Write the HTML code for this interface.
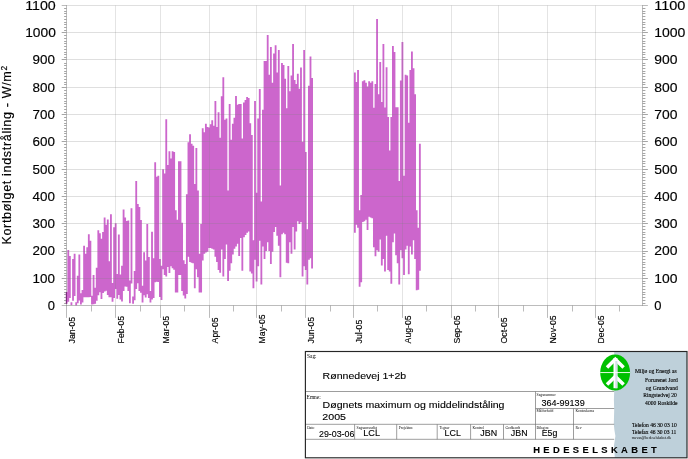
<!DOCTYPE html><html><head><meta charset="utf-8"><title>chart</title><style>html,body{margin:0;padding:0;background:#fff}svg{display:block;will-change:transform}text{font-family:"Liberation Sans",sans-serif;fill:#000;stroke:#000;stroke-width:0.15px;stroke-linejoin:round}.s{font-family:"Liberation Serif",serif;stroke-width:0}.p{stroke-width:0.12px}.b{stroke-width:0.12px}</style></head><body>
<svg width="688" height="459" viewBox="0 0 688 459">
<rect width="688" height="459" fill="#fff"/>
<path fill="#cc66cc" d="M65.78 292.00H67.61V303.80H65.78ZM67.36 249.93H69.19V301.85H67.36ZM68.95 256.06H70.78V297.93H68.95ZM70.52 302.18H72.35V305.25H70.52ZM72.11 258.98H73.94V300.87H72.11ZM73.69 253.87H75.52V295.97H73.69ZM75.27 302.18H77.09V305.45H75.27ZM76.84 275.77H78.67V303.16H76.84ZM78.42 254.60H80.25V300.54H78.42ZM80.00 293.35H81.83V304.47H80.00ZM81.58 290.08H83.41V302.51H81.58ZM83.17 245.84H85.00V297.27H83.17ZM84.74 253.87H86.57V297.27H84.74ZM86.33 247.30H88.16V297.14H86.33ZM87.91 234.31H89.73V297.27H87.91ZM89.48 240.73H91.31V297.01H89.48ZM91.06 295.64H92.89V304.47H91.06ZM92.65 275.04H94.48V304.14H92.65ZM94.22 287.79H96.05V303.81H94.22ZM95.80 267.74H97.63V300.87H95.80ZM97.39 230.37H99.22V295.31H97.39ZM98.96 233.15H100.79V292.37H98.96ZM100.54 238.69H102.37V298.91H100.54ZM102.12 232.12H103.95V293.02H102.12ZM103.71 217.53H105.54V291.39H103.71ZM105.28 224.82H107.11V290.73H105.28ZM106.86 219.42H108.69V294.99H106.86ZM108.45 261.28H110.28V297.34H108.45ZM110.02 214.31H111.85V297.34H110.02ZM111.60 283.07H113.43V301.84H111.60ZM113.19 227.31H115.02V298.09H113.19ZM114.77 223.36H116.59V289.07H114.77ZM116.34 274.05H118.17V298.84H116.34ZM117.92 234.61H119.75V295.08H117.92ZM119.50 274.62H121.33V299.56H119.50ZM121.09 265.79H122.92V301.53H121.09ZM122.67 209.50H124.50V291.06H122.67ZM124.24 217.53H126.07V286.48H124.24ZM125.83 220.88H127.66V286.81H125.83ZM127.41 220.45H129.24V291.06H127.41ZM128.98 280.60H130.81V303.16H128.98ZM130.56 208.33H132.40V283.54H130.56ZM132.15 296.62H133.98V303.81H132.15ZM133.72 271.02H135.56V300.22H133.72ZM135.31 181.03H137.14V289.10H135.31ZM136.88 204.09H138.72V283.21H136.88ZM138.46 207.01H140.29V291.06H138.46ZM140.05 220.01H141.88V292.70H140.05ZM141.62 285.83H143.46V302.51H141.62ZM143.20 252.30H145.03V295.31H143.20ZM144.79 260.56H146.62V297.60H144.79ZM146.36 224.09H148.19V294.33H146.36ZM147.94 257.09H149.78V297.93H147.94ZM149.53 291.06H151.36V302.51H149.53ZM151.10 231.83H152.94V299.56H151.10ZM152.69 258.27H154.52V297.93H152.69ZM154.27 162.20H156.10V282.23H154.27ZM155.84 176.65H157.67V281.71H155.84ZM157.42 175.63H159.25V282.10H157.42ZM159.00 259.00H160.84V296.95H159.00ZM160.58 265.79H162.41V299.89H160.58ZM162.17 169.20H164.00V269.19H162.17ZM163.75 173.50H165.59V275.08H163.75ZM165.34 119.14H167.17V276.39H165.34ZM166.93 165.12H168.76V266.91H166.93ZM168.51 151.26H170.34V273.12H168.51ZM170.09 158.55H171.93V266.25H170.09ZM171.68 151.26H173.51V268.21H171.68ZM173.26 151.99H175.09V269.85H173.26ZM174.85 210.23H176.68V292.55H174.85ZM176.44 219.72H178.27V292.55H176.44ZM178.02 161.18H179.85V275.04H178.02ZM179.61 161.18H181.44V275.04H179.61ZM181.19 222.64H183.02V291.09H181.19ZM182.77 260.30H184.60V295.47H182.77ZM184.36 263.90H186.19V298.39H184.36ZM185.94 194.17H187.78V294.01H185.94ZM187.53 142.20H189.36V256.79H187.53ZM189.12 134.18H190.95V261.90H189.12ZM190.70 143.66H192.53V262.63H190.70ZM192.28 145.71H194.12V263.36H192.28ZM193.87 183.95H195.70V288.18H193.87ZM195.45 147.90H197.28V269.20H195.45ZM197.04 190.52H198.87V277.23H197.04ZM198.62 253.87H200.46V292.55H198.62ZM200.21 224.09H202.04V292.55H200.21ZM201.80 128.19H203.63V260.44H201.80ZM203.38 132.28H205.21V253.87H203.38ZM204.96 123.81H206.79V252.41H204.96ZM206.55 126.88H208.38V251.68H206.55ZM208.13 127.61H209.97V248.03H208.13ZM209.72 124.25H211.55V248.03H209.72ZM211.31 120.16H213.14V248.76H211.31ZM212.89 125.71H214.72V249.49H212.89ZM214.48 101.04H216.31V256.79H214.48ZM216.06 126.88H217.89V261.90H216.06ZM217.64 112.13H219.47V269.93H217.64ZM219.23 137.82H221.06V272.85H219.23ZM220.81 96.37H222.65V249.49H220.81ZM222.40 77.25H224.23V276.50H222.40ZM223.99 119.87H225.82V258.98H223.99ZM225.57 118.41H227.40V244.38H225.57ZM227.15 190.52H228.98V280.88H227.15ZM228.74 103.96H230.57V270.66H228.74ZM230.32 139.87H232.16V263.36H230.32ZM231.91 123.81H233.74V254.60H231.91ZM233.50 117.68H235.33V248.76H233.50ZM235.08 95.93H236.91V246.57H235.08ZM236.67 104.69H238.50V243.65H236.67ZM238.25 103.96H240.08V256.06H238.25ZM239.83 103.96H241.66V237.96H239.83ZM241.42 138.41H243.25V270.66H241.42ZM243.00 102.50H244.84V237.23H243.00ZM244.59 100.02H246.42V235.04H244.59ZM246.18 97.10H248.01V232.85H246.18ZM247.76 98.12H249.59V231.39H247.76ZM249.34 123.23H251.17V271.39H249.34ZM250.93 134.91H252.76V273.58H250.93ZM252.51 240.29H254.34V288.18H252.51ZM254.10 101.04H255.93V259.71H254.10ZM255.69 192.71H257.51V281.61H255.69ZM257.27 118.41H259.10V266.28H257.27ZM258.86 88.93H260.69V240.70H258.86ZM260.44 201.47H262.27V284.53H260.44ZM262.02 109.65H263.85V246.57H262.02ZM263.61 60.90H265.44V258.98H263.61ZM265.19 60.90H267.02V250.95H265.19ZM266.78 35.11H268.61V242.19H266.78ZM268.37 74.77H270.19V250.95H268.37ZM269.95 47.03H271.78V264.09H269.95ZM271.53 82.80H273.36V251.68H271.53ZM273.12 53.60H274.95V232.12H273.12ZM274.70 45.13H276.53V227.01H274.70ZM276.29 72.58H278.12V235.77H276.29ZM277.88 49.95H279.70V245.84H277.88ZM279.46 185.41H281.29V277.23H279.46ZM281.05 63.09H282.88V234.31H281.05ZM282.63 64.99H284.46V232.85H282.63ZM284.21 78.71H286.04V234.31H284.21ZM285.80 108.19H287.63V262.63H285.80ZM287.38 66.01H289.21V263.36H287.38ZM288.97 91.26H290.80V242.19H288.97ZM290.56 75.50H292.38V253.87H290.56ZM292.14 44.11H293.97V227.01H292.14ZM293.73 79.88H295.56V249.49H293.73ZM295.31 83.96H297.14V231.39H295.31ZM296.89 73.74H298.72V221.18H296.89ZM298.48 88.64H300.31V224.09H298.48ZM300.06 67.47H301.89V221.91H300.06ZM301.65 141.77H303.48V276.50H301.65ZM303.24 49.95H305.06V266.28H303.24ZM304.82 151.99H306.65V269.93H304.82ZM306.40 229.20H308.23V284.53H306.40ZM307.99 85.72H309.82V259.71H307.99ZM309.57 56.52H311.40V258.25H309.57ZM311.16 78.12H312.99V268.47H311.16ZM353.95 72.58H355.78V232.85H353.95ZM355.54 82.07H357.37V224.82H355.54ZM357.12 69.95H358.95V227.80H357.12ZM358.71 210.23H360.54V286.72H358.71ZM360.30 194.90H362.12V282.34H360.30ZM361.88 81.34H363.71V221.91H361.88ZM363.47 80.31H365.30V221.18H363.47ZM365.05 82.80H366.88V219.72H365.05ZM366.63 86.45H368.46V229.93H366.63ZM368.22 81.34H370.05V216.80H368.22ZM369.81 82.80H371.63V217.53H369.81ZM371.39 81.34H373.22V218.26H371.39ZM372.98 107.75H374.81V247.30H372.98ZM374.56 83.96H376.39V256.35H374.56ZM376.14 18.98H377.97V250.22H376.14ZM377.73 94.18H379.56V251.68H377.73ZM379.31 62.04H381.14V239.42H379.31ZM380.90 102.07H382.73V265.55H380.90ZM382.49 44.09H384.31V258.98H382.49ZM384.07 107.46H385.90V271.39H384.07ZM385.66 67.18H387.49V235.77H385.66ZM387.24 116.95H389.07V269.93H387.24ZM388.82 150.53H390.65V271.39H388.82ZM390.41 116.95H392.24V283.80H390.41ZM392.00 45.99H393.82V242.19H392.00ZM393.58 52.12H395.41V233.58H393.58ZM395.17 107.17H397.00V255.33H395.17ZM396.75 107.17H398.58V263.36H396.75ZM398.33 181.03H400.16V284.53H398.33ZM399.92 80.61H401.75V250.22H399.92ZM401.50 42.04H403.33V258.25H401.50ZM403.09 175.63H404.92V275.04H403.09ZM404.68 74.77H406.50V249.49H404.68ZM406.26 75.50H408.09V245.84H406.26ZM407.85 122.79H409.68V274.31H407.85ZM409.43 69.95H411.26V246.57H409.43ZM411.01 51.39H412.84V254.60H411.01ZM412.60 68.20H414.43V240.20H412.60ZM414.19 94.18H416.01V258.98H414.19ZM415.77 210.23H417.60V290.36H415.77ZM417.36 227.74H419.19V289.64H417.36ZM418.94 143.66H420.77V270.66H418.94Z"/>
<g stroke="#808080" stroke-opacity="0.25" stroke-width="1" fill="none">
<line x1="66.5" x2="642.5" y1="278.50" y2="278.50"/>
<line x1="66.5" x2="642.5" y1="251.50" y2="251.50"/>
<line x1="66.5" x2="642.5" y1="223.50" y2="223.50"/>
<line x1="66.5" x2="642.5" y1="196.50" y2="196.50"/>
<line x1="66.5" x2="642.5" y1="169.50" y2="169.50"/>
<line x1="66.5" x2="642.5" y1="141.50" y2="141.50"/>
<line x1="66.5" x2="642.5" y1="114.50" y2="114.50"/>
<line x1="66.5" x2="642.5" y1="87.50" y2="87.50"/>
<line x1="66.5" x2="642.5" y1="59.50" y2="59.50"/>
<line x1="66.5" x2="642.5" y1="32.50" y2="32.50"/>
<line x1="66.5" x2="642.5" y1="5.50" y2="5.50"/>
</g><g stroke="#808080" stroke-opacity="0.21" stroke-width="1" fill="none">
<line x1="115.5" x2="115.5" y1="5.50" y2="305.5"/>
<line x1="160.5" x2="160.5" y1="5.50" y2="305.5"/>
<line x1="209.5" x2="209.5" y1="5.50" y2="305.5"/>
<line x1="256.5" x2="256.5" y1="5.50" y2="305.5"/>
<line x1="305.5" x2="305.5" y1="5.50" y2="305.5"/>
<line x1="353.5" x2="353.5" y1="5.50" y2="305.5"/>
<line x1="402.5" x2="402.5" y1="5.50" y2="305.5"/>
<line x1="451.5" x2="451.5" y1="5.50" y2="305.5"/>
<line x1="498.5" x2="498.5" y1="5.50" y2="305.5"/>
<line x1="547.5" x2="547.5" y1="5.50" y2="305.5"/>
<line x1="595.5" x2="595.5" y1="5.50" y2="305.5"/>
</g>
<g stroke="#8c8c8c" stroke-opacity="0.58" stroke-width="1" fill="none">
<line x1="66.5" x2="66.5" y1="5.00" y2="306.0"/>
<line x1="642.5" x2="642.5" y1="5.00" y2="306.0"/>
<line x1="61.7" x2="647.9" y1="305.5" y2="305.5"/>
<line x1="61.7" x2="66.5" y1="5.50" y2="5.50"/>
<line x1="642.5" x2="647.9" y1="5.50" y2="5.50"/>
</g><g stroke="#909090" stroke-opacity="0.8" stroke-width="1" fill="none">
<line x1="64.1" x2="66.5" y1="303.50" y2="303.50"/>
<line x1="642.5" x2="645.4" y1="303.50" y2="303.50"/>
<line x1="64.1" x2="66.5" y1="300.50" y2="300.50"/>
<line x1="642.5" x2="645.4" y1="300.50" y2="300.50"/>
<line x1="64.1" x2="66.5" y1="297.50" y2="297.50"/>
<line x1="642.5" x2="645.4" y1="297.50" y2="297.50"/>
<line x1="64.1" x2="66.5" y1="294.50" y2="294.50"/>
<line x1="642.5" x2="645.4" y1="294.50" y2="294.50"/>
<line x1="64.1" x2="66.5" y1="292.50" y2="292.50"/>
<line x1="642.5" x2="645.4" y1="292.50" y2="292.50"/>
<line x1="64.1" x2="66.5" y1="289.50" y2="289.50"/>
<line x1="642.5" x2="645.4" y1="289.50" y2="289.50"/>
<line x1="64.1" x2="66.5" y1="286.50" y2="286.50"/>
<line x1="642.5" x2="645.4" y1="286.50" y2="286.50"/>
<line x1="64.1" x2="66.5" y1="283.50" y2="283.50"/>
<line x1="642.5" x2="645.4" y1="283.50" y2="283.50"/>
<line x1="64.1" x2="66.5" y1="281.50" y2="281.50"/>
<line x1="642.5" x2="645.4" y1="281.50" y2="281.50"/>
<line x1="61.7" x2="66.5" y1="278.50" y2="278.50"/>
<line x1="642.5" x2="647.9" y1="278.50" y2="278.50"/>
<line x1="64.1" x2="66.5" y1="275.50" y2="275.50"/>
<line x1="642.5" x2="645.4" y1="275.50" y2="275.50"/>
<line x1="64.1" x2="66.5" y1="273.50" y2="273.50"/>
<line x1="642.5" x2="645.4" y1="273.50" y2="273.50"/>
<line x1="64.1" x2="66.5" y1="270.50" y2="270.50"/>
<line x1="642.5" x2="645.4" y1="270.50" y2="270.50"/>
<line x1="64.1" x2="66.5" y1="267.50" y2="267.50"/>
<line x1="642.5" x2="645.4" y1="267.50" y2="267.50"/>
<line x1="64.1" x2="66.5" y1="264.50" y2="264.50"/>
<line x1="642.5" x2="645.4" y1="264.50" y2="264.50"/>
<line x1="64.1" x2="66.5" y1="262.50" y2="262.50"/>
<line x1="642.5" x2="645.4" y1="262.50" y2="262.50"/>
<line x1="64.1" x2="66.5" y1="259.50" y2="259.50"/>
<line x1="642.5" x2="645.4" y1="259.50" y2="259.50"/>
<line x1="64.1" x2="66.5" y1="256.50" y2="256.50"/>
<line x1="642.5" x2="645.4" y1="256.50" y2="256.50"/>
<line x1="64.1" x2="66.5" y1="253.50" y2="253.50"/>
<line x1="642.5" x2="645.4" y1="253.50" y2="253.50"/>
<line x1="61.7" x2="66.5" y1="251.50" y2="251.50"/>
<line x1="642.5" x2="647.9" y1="251.50" y2="251.50"/>
<line x1="64.1" x2="66.5" y1="248.50" y2="248.50"/>
<line x1="642.5" x2="645.4" y1="248.50" y2="248.50"/>
<line x1="64.1" x2="66.5" y1="245.50" y2="245.50"/>
<line x1="642.5" x2="645.4" y1="245.50" y2="245.50"/>
<line x1="64.1" x2="66.5" y1="243.50" y2="243.50"/>
<line x1="642.5" x2="645.4" y1="243.50" y2="243.50"/>
<line x1="64.1" x2="66.5" y1="240.50" y2="240.50"/>
<line x1="642.5" x2="645.4" y1="240.50" y2="240.50"/>
<line x1="64.1" x2="66.5" y1="237.50" y2="237.50"/>
<line x1="642.5" x2="645.4" y1="237.50" y2="237.50"/>
<line x1="64.1" x2="66.5" y1="234.50" y2="234.50"/>
<line x1="642.5" x2="645.4" y1="234.50" y2="234.50"/>
<line x1="64.1" x2="66.5" y1="232.50" y2="232.50"/>
<line x1="642.5" x2="645.4" y1="232.50" y2="232.50"/>
<line x1="64.1" x2="66.5" y1="229.50" y2="229.50"/>
<line x1="642.5" x2="645.4" y1="229.50" y2="229.50"/>
<line x1="64.1" x2="66.5" y1="226.50" y2="226.50"/>
<line x1="642.5" x2="645.4" y1="226.50" y2="226.50"/>
<line x1="61.7" x2="66.5" y1="223.50" y2="223.50"/>
<line x1="642.5" x2="647.9" y1="223.50" y2="223.50"/>
<line x1="64.1" x2="66.5" y1="221.50" y2="221.50"/>
<line x1="642.5" x2="645.4" y1="221.50" y2="221.50"/>
<line x1="64.1" x2="66.5" y1="218.50" y2="218.50"/>
<line x1="642.5" x2="645.4" y1="218.50" y2="218.50"/>
<line x1="64.1" x2="66.5" y1="215.50" y2="215.50"/>
<line x1="642.5" x2="645.4" y1="215.50" y2="215.50"/>
<line x1="64.1" x2="66.5" y1="213.50" y2="213.50"/>
<line x1="642.5" x2="645.4" y1="213.50" y2="213.50"/>
<line x1="64.1" x2="66.5" y1="210.50" y2="210.50"/>
<line x1="642.5" x2="645.4" y1="210.50" y2="210.50"/>
<line x1="64.1" x2="66.5" y1="207.50" y2="207.50"/>
<line x1="642.5" x2="645.4" y1="207.50" y2="207.50"/>
<line x1="64.1" x2="66.5" y1="204.50" y2="204.50"/>
<line x1="642.5" x2="645.4" y1="204.50" y2="204.50"/>
<line x1="64.1" x2="66.5" y1="202.50" y2="202.50"/>
<line x1="642.5" x2="645.4" y1="202.50" y2="202.50"/>
<line x1="64.1" x2="66.5" y1="199.50" y2="199.50"/>
<line x1="642.5" x2="645.4" y1="199.50" y2="199.50"/>
<line x1="61.7" x2="66.5" y1="196.50" y2="196.50"/>
<line x1="642.5" x2="647.9" y1="196.50" y2="196.50"/>
<line x1="64.1" x2="66.5" y1="193.50" y2="193.50"/>
<line x1="642.5" x2="645.4" y1="193.50" y2="193.50"/>
<line x1="64.1" x2="66.5" y1="191.50" y2="191.50"/>
<line x1="642.5" x2="645.4" y1="191.50" y2="191.50"/>
<line x1="64.1" x2="66.5" y1="188.50" y2="188.50"/>
<line x1="642.5" x2="645.4" y1="188.50" y2="188.50"/>
<line x1="64.1" x2="66.5" y1="185.50" y2="185.50"/>
<line x1="642.5" x2="645.4" y1="185.50" y2="185.50"/>
<line x1="64.1" x2="66.5" y1="183.50" y2="183.50"/>
<line x1="642.5" x2="645.4" y1="183.50" y2="183.50"/>
<line x1="64.1" x2="66.5" y1="180.50" y2="180.50"/>
<line x1="642.5" x2="645.4" y1="180.50" y2="180.50"/>
<line x1="64.1" x2="66.5" y1="177.50" y2="177.50"/>
<line x1="642.5" x2="645.4" y1="177.50" y2="177.50"/>
<line x1="64.1" x2="66.5" y1="174.50" y2="174.50"/>
<line x1="642.5" x2="645.4" y1="174.50" y2="174.50"/>
<line x1="64.1" x2="66.5" y1="172.50" y2="172.50"/>
<line x1="642.5" x2="645.4" y1="172.50" y2="172.50"/>
<line x1="61.7" x2="66.5" y1="169.50" y2="169.50"/>
<line x1="642.5" x2="647.9" y1="169.50" y2="169.50"/>
<line x1="64.1" x2="66.5" y1="166.50" y2="166.50"/>
<line x1="642.5" x2="645.4" y1="166.50" y2="166.50"/>
<line x1="64.1" x2="66.5" y1="163.50" y2="163.50"/>
<line x1="642.5" x2="645.4" y1="163.50" y2="163.50"/>
<line x1="64.1" x2="66.5" y1="161.50" y2="161.50"/>
<line x1="642.5" x2="645.4" y1="161.50" y2="161.50"/>
<line x1="64.1" x2="66.5" y1="158.50" y2="158.50"/>
<line x1="642.5" x2="645.4" y1="158.50" y2="158.50"/>
<line x1="64.1" x2="66.5" y1="155.50" y2="155.50"/>
<line x1="642.5" x2="645.4" y1="155.50" y2="155.50"/>
<line x1="64.1" x2="66.5" y1="153.50" y2="153.50"/>
<line x1="642.5" x2="645.4" y1="153.50" y2="153.50"/>
<line x1="64.1" x2="66.5" y1="150.50" y2="150.50"/>
<line x1="642.5" x2="645.4" y1="150.50" y2="150.50"/>
<line x1="64.1" x2="66.5" y1="147.50" y2="147.50"/>
<line x1="642.5" x2="645.4" y1="147.50" y2="147.50"/>
<line x1="64.1" x2="66.5" y1="144.50" y2="144.50"/>
<line x1="642.5" x2="645.4" y1="144.50" y2="144.50"/>
<line x1="61.7" x2="66.5" y1="141.50" y2="141.50"/>
<line x1="642.5" x2="647.9" y1="141.50" y2="141.50"/>
<line x1="64.1" x2="66.5" y1="139.50" y2="139.50"/>
<line x1="642.5" x2="645.4" y1="139.50" y2="139.50"/>
<line x1="64.1" x2="66.5" y1="136.50" y2="136.50"/>
<line x1="642.5" x2="645.4" y1="136.50" y2="136.50"/>
<line x1="64.1" x2="66.5" y1="133.50" y2="133.50"/>
<line x1="642.5" x2="645.4" y1="133.50" y2="133.50"/>
<line x1="64.1" x2="66.5" y1="131.50" y2="131.50"/>
<line x1="642.5" x2="645.4" y1="131.50" y2="131.50"/>
<line x1="64.1" x2="66.5" y1="128.50" y2="128.50"/>
<line x1="642.5" x2="645.4" y1="128.50" y2="128.50"/>
<line x1="64.1" x2="66.5" y1="125.50" y2="125.50"/>
<line x1="642.5" x2="645.4" y1="125.50" y2="125.50"/>
<line x1="64.1" x2="66.5" y1="123.50" y2="123.50"/>
<line x1="642.5" x2="645.4" y1="123.50" y2="123.50"/>
<line x1="64.1" x2="66.5" y1="120.50" y2="120.50"/>
<line x1="642.5" x2="645.4" y1="120.50" y2="120.50"/>
<line x1="64.1" x2="66.5" y1="117.50" y2="117.50"/>
<line x1="642.5" x2="645.4" y1="117.50" y2="117.50"/>
<line x1="61.7" x2="66.5" y1="114.50" y2="114.50"/>
<line x1="642.5" x2="647.9" y1="114.50" y2="114.50"/>
<line x1="64.1" x2="66.5" y1="112.50" y2="112.50"/>
<line x1="642.5" x2="645.4" y1="112.50" y2="112.50"/>
<line x1="64.1" x2="66.5" y1="109.50" y2="109.50"/>
<line x1="642.5" x2="645.4" y1="109.50" y2="109.50"/>
<line x1="64.1" x2="66.5" y1="106.50" y2="106.50"/>
<line x1="642.5" x2="645.4" y1="106.50" y2="106.50"/>
<line x1="64.1" x2="66.5" y1="103.50" y2="103.50"/>
<line x1="642.5" x2="645.4" y1="103.50" y2="103.50"/>
<line x1="64.1" x2="66.5" y1="101.50" y2="101.50"/>
<line x1="642.5" x2="645.4" y1="101.50" y2="101.50"/>
<line x1="64.1" x2="66.5" y1="98.50" y2="98.50"/>
<line x1="642.5" x2="645.4" y1="98.50" y2="98.50"/>
<line x1="64.1" x2="66.5" y1="95.50" y2="95.50"/>
<line x1="642.5" x2="645.4" y1="95.50" y2="95.50"/>
<line x1="64.1" x2="66.5" y1="93.50" y2="93.50"/>
<line x1="642.5" x2="645.4" y1="93.50" y2="93.50"/>
<line x1="64.1" x2="66.5" y1="90.50" y2="90.50"/>
<line x1="642.5" x2="645.4" y1="90.50" y2="90.50"/>
<line x1="61.7" x2="66.5" y1="87.50" y2="87.50"/>
<line x1="642.5" x2="647.9" y1="87.50" y2="87.50"/>
<line x1="64.1" x2="66.5" y1="84.50" y2="84.50"/>
<line x1="642.5" x2="645.4" y1="84.50" y2="84.50"/>
<line x1="64.1" x2="66.5" y1="82.50" y2="82.50"/>
<line x1="642.5" x2="645.4" y1="82.50" y2="82.50"/>
<line x1="64.1" x2="66.5" y1="79.50" y2="79.50"/>
<line x1="642.5" x2="645.4" y1="79.50" y2="79.50"/>
<line x1="64.1" x2="66.5" y1="76.50" y2="76.50"/>
<line x1="642.5" x2="645.4" y1="76.50" y2="76.50"/>
<line x1="64.1" x2="66.5" y1="73.50" y2="73.50"/>
<line x1="642.5" x2="645.4" y1="73.50" y2="73.50"/>
<line x1="64.1" x2="66.5" y1="71.50" y2="71.50"/>
<line x1="642.5" x2="645.4" y1="71.50" y2="71.50"/>
<line x1="64.1" x2="66.5" y1="68.50" y2="68.50"/>
<line x1="642.5" x2="645.4" y1="68.50" y2="68.50"/>
<line x1="64.1" x2="66.5" y1="65.50" y2="65.50"/>
<line x1="642.5" x2="645.4" y1="65.50" y2="65.50"/>
<line x1="64.1" x2="66.5" y1="63.50" y2="63.50"/>
<line x1="642.5" x2="645.4" y1="63.50" y2="63.50"/>
<line x1="61.7" x2="66.5" y1="59.50" y2="59.50"/>
<line x1="642.5" x2="647.9" y1="59.50" y2="59.50"/>
<line x1="64.1" x2="66.5" y1="57.50" y2="57.50"/>
<line x1="642.5" x2="645.4" y1="57.50" y2="57.50"/>
<line x1="64.1" x2="66.5" y1="54.50" y2="54.50"/>
<line x1="642.5" x2="645.4" y1="54.50" y2="54.50"/>
<line x1="64.1" x2="66.5" y1="52.50" y2="52.50"/>
<line x1="642.5" x2="645.4" y1="52.50" y2="52.50"/>
<line x1="64.1" x2="66.5" y1="49.50" y2="49.50"/>
<line x1="642.5" x2="645.4" y1="49.50" y2="49.50"/>
<line x1="64.1" x2="66.5" y1="46.50" y2="46.50"/>
<line x1="642.5" x2="645.4" y1="46.50" y2="46.50"/>
<line x1="64.1" x2="66.5" y1="43.50" y2="43.50"/>
<line x1="642.5" x2="645.4" y1="43.50" y2="43.50"/>
<line x1="64.1" x2="66.5" y1="41.50" y2="41.50"/>
<line x1="642.5" x2="645.4" y1="41.50" y2="41.50"/>
<line x1="64.1" x2="66.5" y1="38.50" y2="38.50"/>
<line x1="642.5" x2="645.4" y1="38.50" y2="38.50"/>
<line x1="64.1" x2="66.5" y1="35.50" y2="35.50"/>
<line x1="642.5" x2="645.4" y1="35.50" y2="35.50"/>
<line x1="61.7" x2="66.5" y1="32.50" y2="32.50"/>
<line x1="642.5" x2="647.9" y1="32.50" y2="32.50"/>
<line x1="64.1" x2="66.5" y1="30.50" y2="30.50"/>
<line x1="642.5" x2="645.4" y1="30.50" y2="30.50"/>
<line x1="64.1" x2="66.5" y1="27.50" y2="27.50"/>
<line x1="642.5" x2="645.4" y1="27.50" y2="27.50"/>
<line x1="64.1" x2="66.5" y1="24.50" y2="24.50"/>
<line x1="642.5" x2="645.4" y1="24.50" y2="24.50"/>
<line x1="64.1" x2="66.5" y1="22.50" y2="22.50"/>
<line x1="642.5" x2="645.4" y1="22.50" y2="22.50"/>
<line x1="64.1" x2="66.5" y1="19.50" y2="19.50"/>
<line x1="642.5" x2="645.4" y1="19.50" y2="19.50"/>
<line x1="64.1" x2="66.5" y1="16.50" y2="16.50"/>
<line x1="642.5" x2="645.4" y1="16.50" y2="16.50"/>
<line x1="64.1" x2="66.5" y1="13.50" y2="13.50"/>
<line x1="642.5" x2="645.4" y1="13.50" y2="13.50"/>
<line x1="64.1" x2="66.5" y1="11.50" y2="11.50"/>
<line x1="642.5" x2="645.4" y1="11.50" y2="11.50"/>
<line x1="64.1" x2="66.5" y1="8.50" y2="8.50"/>
<line x1="642.5" x2="645.4" y1="8.50" y2="8.50"/>
</g><g stroke="#8c8c8c" stroke-opacity="0.58" stroke-width="1" fill="none">
<line x1="66.5" x2="66.5" y1="305.5" y2="317.9"/>
<line x1="115.5" x2="115.5" y1="305.5" y2="317.9"/>
<line x1="160.5" x2="160.5" y1="305.5" y2="317.9"/>
<line x1="209.5" x2="209.5" y1="305.5" y2="317.9"/>
<line x1="256.5" x2="256.5" y1="305.5" y2="317.9"/>
<line x1="305.5" x2="305.5" y1="305.5" y2="317.9"/>
<line x1="353.5" x2="353.5" y1="305.5" y2="317.9"/>
<line x1="402.5" x2="402.5" y1="305.5" y2="317.9"/>
<line x1="451.5" x2="451.5" y1="305.5" y2="317.9"/>
<line x1="498.5" x2="498.5" y1="305.5" y2="317.9"/>
<line x1="547.5" x2="547.5" y1="305.5" y2="317.9"/>
<line x1="595.5" x2="595.5" y1="305.5" y2="317.9"/>
<line x1="91.5" x2="91.5" y1="305.5" y2="311.5"/>
<line x1="140.5" x2="140.5" y1="305.5" y2="311.5"/>
<line x1="184.5" x2="184.5" y1="305.5" y2="311.5"/>
<line x1="233.5" x2="233.5" y1="305.5" y2="311.5"/>
<line x1="281.5" x2="281.5" y1="305.5" y2="311.5"/>
<line x1="330.5" x2="330.5" y1="305.5" y2="311.5"/>
<line x1="377.5" x2="377.5" y1="305.5" y2="311.5"/>
<line x1="426.5" x2="426.5" y1="305.5" y2="311.5"/>
<line x1="475.5" x2="475.5" y1="305.5" y2="311.5"/>
<line x1="523.5" x2="523.5" y1="305.5" y2="311.5"/>
<line x1="572.5" x2="572.5" y1="305.5" y2="311.5"/>
<line x1="619.5" x2="619.5" y1="305.5" y2="311.5"/>
</g>
<rect x="65.95" y="292.00" width="1.05" height="11.80" fill="#7d2f7d"/>
<text x="47.70" y="309.85" font-size="12.3" textLength="7.2" lengthAdjust="spacingAndGlyphs">0</text>
<text x="654.30" y="309.85" font-size="12.3" textLength="7.2" lengthAdjust="spacingAndGlyphs">0</text>
<text x="32.50" y="282.58" font-size="12.3" textLength="22.4" lengthAdjust="spacingAndGlyphs">100</text>
<text x="654.30" y="282.58" font-size="12.3" textLength="23.2" lengthAdjust="spacingAndGlyphs">100</text>
<text x="32.50" y="255.31" font-size="12.3" textLength="22.4" lengthAdjust="spacingAndGlyphs">200</text>
<text x="654.30" y="255.31" font-size="12.3" textLength="23.2" lengthAdjust="spacingAndGlyphs">200</text>
<text x="32.50" y="228.04" font-size="12.3" textLength="22.4" lengthAdjust="spacingAndGlyphs">300</text>
<text x="654.30" y="228.04" font-size="12.3" textLength="23.2" lengthAdjust="spacingAndGlyphs">300</text>
<text x="32.50" y="200.77" font-size="12.3" textLength="22.4" lengthAdjust="spacingAndGlyphs">400</text>
<text x="654.30" y="200.77" font-size="12.3" textLength="23.2" lengthAdjust="spacingAndGlyphs">400</text>
<text x="32.50" y="173.50" font-size="12.3" textLength="22.4" lengthAdjust="spacingAndGlyphs">500</text>
<text x="654.30" y="173.50" font-size="12.3" textLength="23.2" lengthAdjust="spacingAndGlyphs">500</text>
<text x="32.50" y="146.23" font-size="12.3" textLength="22.4" lengthAdjust="spacingAndGlyphs">600</text>
<text x="654.30" y="146.23" font-size="12.3" textLength="23.2" lengthAdjust="spacingAndGlyphs">600</text>
<text x="32.50" y="118.96" font-size="12.3" textLength="22.4" lengthAdjust="spacingAndGlyphs">700</text>
<text x="654.30" y="118.96" font-size="12.3" textLength="23.2" lengthAdjust="spacingAndGlyphs">700</text>
<text x="32.50" y="91.69" font-size="12.3" textLength="22.4" lengthAdjust="spacingAndGlyphs">800</text>
<text x="654.30" y="91.69" font-size="12.3" textLength="23.2" lengthAdjust="spacingAndGlyphs">800</text>
<text x="32.50" y="64.42" font-size="12.3" textLength="22.4" lengthAdjust="spacingAndGlyphs">900</text>
<text x="654.30" y="64.42" font-size="12.3" textLength="23.2" lengthAdjust="spacingAndGlyphs">900</text>
<text x="25.20" y="37.15" font-size="12.3" textLength="30.6" lengthAdjust="spacingAndGlyphs">1000</text>
<text x="654.20" y="37.15" font-size="12.3" textLength="31.2" lengthAdjust="spacingAndGlyphs">1000</text>
<text x="25.20" y="9.88" font-size="12.3" textLength="30.6" lengthAdjust="spacingAndGlyphs">1100</text>
<text x="654.20" y="9.88" font-size="12.3" textLength="31.2" lengthAdjust="spacingAndGlyphs">1100</text>
<text transform="translate(11.1,244.6) rotate(-90) scale(1,1.05)" font-size="12.6" textLength="178.8" lengthAdjust="spacing">Kortbølget indstråling - W/m<tspan font-size="8.4" dy="-4.3">2</tspan></text>
<text transform="translate(75.40,343.4) rotate(-90) scale(1,1.09)" font-size="8.7">Jan-05</text>
<text transform="translate(124.40,343.4) rotate(-90) scale(1,1.09)" font-size="8.7">Feb-05</text>
<text transform="translate(169.40,343.4) rotate(-90) scale(1,1.09)" font-size="8.7">Mar-05</text>
<text transform="translate(218.40,343.4) rotate(-90) scale(1,1.09)" font-size="8.7">Apr-05</text>
<text transform="translate(265.40,343.4) rotate(-90) scale(1,1.09)" font-size="8.7">May-05</text>
<text transform="translate(314.40,343.4) rotate(-90) scale(1,1.09)" font-size="8.7">Jun-05</text>
<text transform="translate(362.40,343.4) rotate(-90) scale(1,1.09)" font-size="8.7">Jul-05</text>
<text transform="translate(411.40,343.4) rotate(-90) scale(1,1.09)" font-size="8.7">Aug-05</text>
<text transform="translate(460.40,343.4) rotate(-90) scale(1,1.09)" font-size="8.7">Sep-05</text>
<text transform="translate(507.40,343.4) rotate(-90) scale(1,1.09)" font-size="8.7">Oct-05</text>
<text transform="translate(556.40,343.4) rotate(-90) scale(1,1.09)" font-size="8.7">Nov-05</text>
<text transform="translate(604.40,343.4) rotate(-90) scale(1,1.09)" font-size="8.7">Dec-05</text>
<g>
<path d="M614.2 351.5 L687.0 351.5 L687.0 457.8 L614.8000000000001 457.8 L614.4000000000001 452 L613.9000000000001 446 L614.7 441 L615.4000000000001 436 L614.4000000000001 430 L613.8000000000001 424 L614.2 410 L613.9000000000001 400 L614.2 392 Z" fill="#bed0da"/>
<g stroke="#6e6e6e" stroke-width="0.8" fill="none" stroke-opacity="0.85">
<line x1="305.4" x2="614.2" y1="391.5" y2="391.5"/>
<line x1="305.4" x2="614.2" y1="424.3" y2="424.3"/>
<line x1="305.4" x2="614.2" y1="439.3" y2="439.3"/>
<line x1="354.6" x2="354.6" y1="424.3" y2="439.3"/>
<line x1="396.7" x2="396.7" y1="424.3" y2="439.3"/>
<line x1="437.2" x2="437.2" y1="424.3" y2="439.3"/>
<line x1="470.6" x2="470.6" y1="424.3" y2="439.3"/>
<line x1="503.5" x2="503.5" y1="424.3" y2="439.3"/>
<line x1="535.5" x2="535.5" y1="391.5" y2="439.3"/>
<line x1="573.5" x2="573.5" y1="408.5" y2="439.3"/>
<line x1="535.5" x2="614.2" y1="408.5" y2="408.5"/>
</g>
<ellipse cx="615.15" cy="372.55" rx="14.95" ry="18.05" fill="#00c000"/>
<g stroke="#fff" fill="none" stroke-width="3.5" stroke-linejoin="miter">
<path d="M607.0 367.5 L615.3 359.3 L623.6 367.5"/>
<path d="M607.0 384.6 L615.3 376.4 L623.6 384.6"/>
</g>
<rect x="613.5" y="358" width="3.9" height="30.2" fill="#fff"/>
<rect x="615.3" y="361" width="2.1" height="27.2" fill="#d3dfe6"/>
<rect x="600.2" y="372.15" width="29.9" height="0.9" fill="#fff"/>
<rect x="305.4" y="351.5" width="381.6" height="106.30000000000001" fill="none" stroke="#262626" stroke-width="1.15"/>
<g>
<text class="b" x="322.6" y="378.8" font-size="9.4" textLength="83.6" lengthAdjust="spacingAndGlyphs">Rønnedevej 1+2b</text>
<text class="b" x="322.6" y="407.5" font-size="9.6" textLength="181.9" lengthAdjust="spacingAndGlyphs">Døgnets maximum og middelindståling</text>
<text class="b" x="322.3" y="420.0" font-size="9.5" textLength="23.7" lengthAdjust="spacingAndGlyphs">2005</text>
<text class="b" x="319.0" y="436.8" font-size="8.7" textLength="35.4" lengthAdjust="spacingAndGlyphs">29-03-06</text>
<text class="b" x="363.2" y="436.0" font-size="8.7" textLength="16.8" lengthAdjust="spacingAndGlyphs">LCL</text>
<text class="b" x="444.6" y="435.9" font-size="8.7" textLength="16.3" lengthAdjust="spacingAndGlyphs">LCL</text>
<text class="b" x="480.3" y="435.9" font-size="8.7" textLength="16.8" lengthAdjust="spacingAndGlyphs">JBN</text>
<text class="b" x="510.8" y="435.9" font-size="8.7" textLength="16.8" lengthAdjust="spacingAndGlyphs">JBN</text>
<text class="b" x="541.7" y="435.9" font-size="8.7" textLength="15.6" lengthAdjust="spacingAndGlyphs">E5g</text>
<text class="b" x="541.4" y="405.8" font-size="8.7" textLength="43.3" lengthAdjust="spacingAndGlyphs">364-99139</text>
<text class="b" x="533.2" y="453.1" font-size="9.4" font-weight="bold" textLength="123.6" lengthAdjust="spacing">HEDESELSKABET</text>
</g>
<g class="s" fill="#222">
<text class="s" x="307.0" y="357.8" font-size="5.4">Sag:</text>
<text class="s" x="306.6" y="398.6" font-size="5.4">Emne:</text>
<text class="s" x="307.2" y="428.6" font-size="3.7" fill="#333">Dato</text>
<text class="s" x="356.6" y="428.6" font-size="3.7" fill="#333">Sagsansvarlig</text>
<text class="s" x="398.7" y="428.6" font-size="3.7" fill="#333">Projektnr.</text>
<text class="s" x="439.4" y="428.6" font-size="3.7" fill="#333">Tegner</text>
<text class="s" x="472.4" y="428.6" font-size="3.7" fill="#333">Kontrol</text>
<text class="s" x="505.4" y="428.6" font-size="3.7" fill="#333">Godkendt</text>
<text class="s" x="536.6" y="428.6" font-size="3.7" fill="#333">Bilag nr.</text>
<text class="s" x="575.6" y="428.6" font-size="3.7" fill="#333">Rev</text>
<text class="s" x="536.6" y="396.0" font-size="3.7" fill="#333">Sagsnummer</text>
<text class="s" x="536.6" y="412.0" font-size="3.7" fill="#333">Målforhold</text>
<text class="s" x="575.4" y="412.0" font-size="3.7" fill="#333">Kontoskema</text>
</g>
<g class="s" text-anchor="end">
<text class="s p" x="676.6" y="372.6" font-size="5.6">Miljø og Energi as</text>
<text class="s p" x="677.9" y="381.7" font-size="5.6">Forurenet Jord</text>
<text class="s p" x="677.9" y="389.8" font-size="5.6">og Grundvand</text>
<text class="s p" x="676.9" y="397.4" font-size="5.6">Ringstedvej 20</text>
<text class="s p" x="677.6" y="404.6" font-size="5.6">4000 Roskilde</text>
<text class="s p" x="676.9" y="426.5" font-size="5.6">Telefon 46 30 03 10</text>
<text class="s p" x="676.4" y="433.6" font-size="5.6">Telefax 46 30 03 11</text>
<text class="s" x="670.9" y="438.6" font-size="3.8" fill="#333">mevas@hedeselskabet.dk</text>
</g>
</g>
</svg></body></html>
